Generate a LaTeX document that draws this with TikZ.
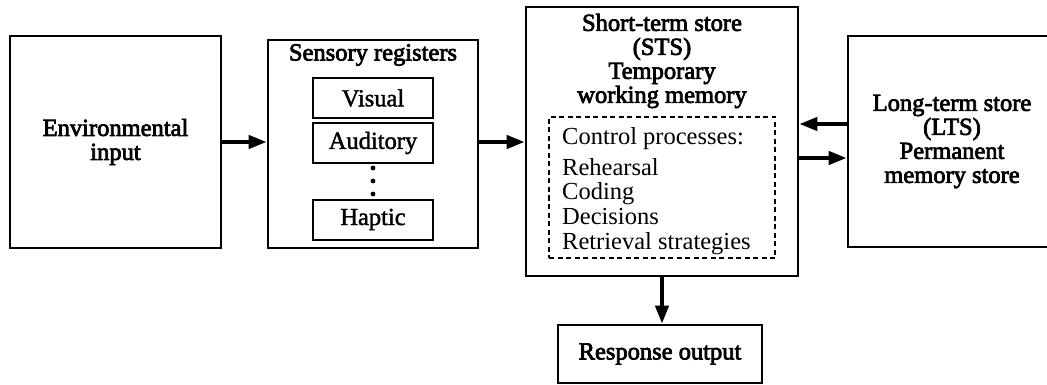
\documentclass[tikz,border=0pt]{standalone}
\usepackage{fontspec}
\setmainfont{Liberation Serif}
\newfontfamily\headfont[FakeBold=3]{Liberation Serif}
\newfontfamily\subfont[FakeBold=1.6]{Liberation Serif}
\usetikzlibrary{arrows.meta}
\begin{document}
\begin{tikzpicture}[x=1pt,y=-1pt,
  box/.style={draw, line width=2.6pt, inner sep=0pt},
  head/.style={font=\headfont\fontsize{24.5}{24}\selectfont, align=center, inner sep=0pt},
  regbox/.style={draw, line width=2pt, inner sep=0pt, minimum width=120pt, minimum height=40pt,
    font=\subfont\fontsize{24.5}{24}\selectfont},
  ctrlbox/.style={draw, line width=1.6pt, dash pattern=on 5pt off 3.5pt, inner sep=0pt},
  body/.style={font=\fontsize{24.5}{24.8}\selectfont, align=left, inner sep=0pt},
  arr/.style={line width=4pt, -{Triangle[length=18pt,width=13pt]}}]
\useasboundingbox (0,0) rectangle (1047,385);
\clip (0,0) rectangle (1047,385);

% heights of the horizontal connectors
\coordinate (yin) at (0,142);
\coordinate (yback) at (0,124);
\coordinate (yout) at (0,158);

% environmental input
\node[box, head, minimum width=211pt, minimum height=212pt] (env) at (115.5,142) {Environmental\\input};

% sensory registers
\node[box, minimum width=210pt, minimum height=208pt] (sens) at (373,144) {};
\node[head] (senst) at (373,55) {Sensory registers};
\node[regbox] (vis) at (373,98) {Visual};
\node[regbox] (aud) at (373,143) {Auditory};
\node[regbox] (hap) at (373,219.5) {Haptic};
\foreach \yy in {168,181,194} \fill (373,\yy) circle (2.4pt);

% short-term store
\node[box, minimum width=272pt, minimum height=269pt] (sts) at (662,141.5) {};
\node[head] (ststitle) at (662,61) {Short-term store\\(STS)\\Temporary\\working memory};
\node[ctrlbox, minimum width=226pt, minimum height=141pt] (ctrl) at (662,187.5) {};
\node[body, anchor=west] (ctrlt) at (562,191) {Control processes:\\[6pt]Rehearsal\\Coding\\Decisions\\Retrieval strategies};

% long-term store (runs past the right edge)
\node[box, head, minimum width=208pt, minimum height=211pt] (lts) at (952,141.5) {Long-term store\\(LTS)\\Permanent\\memory store};

% response output
\node[box, head, minimum width=204pt, minimum height=58pt] (resp) at (660,354) {Response output};

% connectors
\draw[arr] (env.east |- yin) -- (sens.west |- yin);
\draw[arr] (sens.east |- yin) -- (sts.west |- yin);
\draw[arr] (lts.west |- yback) -- (sts.east |- yback);
\draw[arr] (sts.east |- yout) -- (lts.west |- yout);
\draw[arr] (sts.south) -- (sts.south |- resp.north);
\end{tikzpicture}
\end{document}
